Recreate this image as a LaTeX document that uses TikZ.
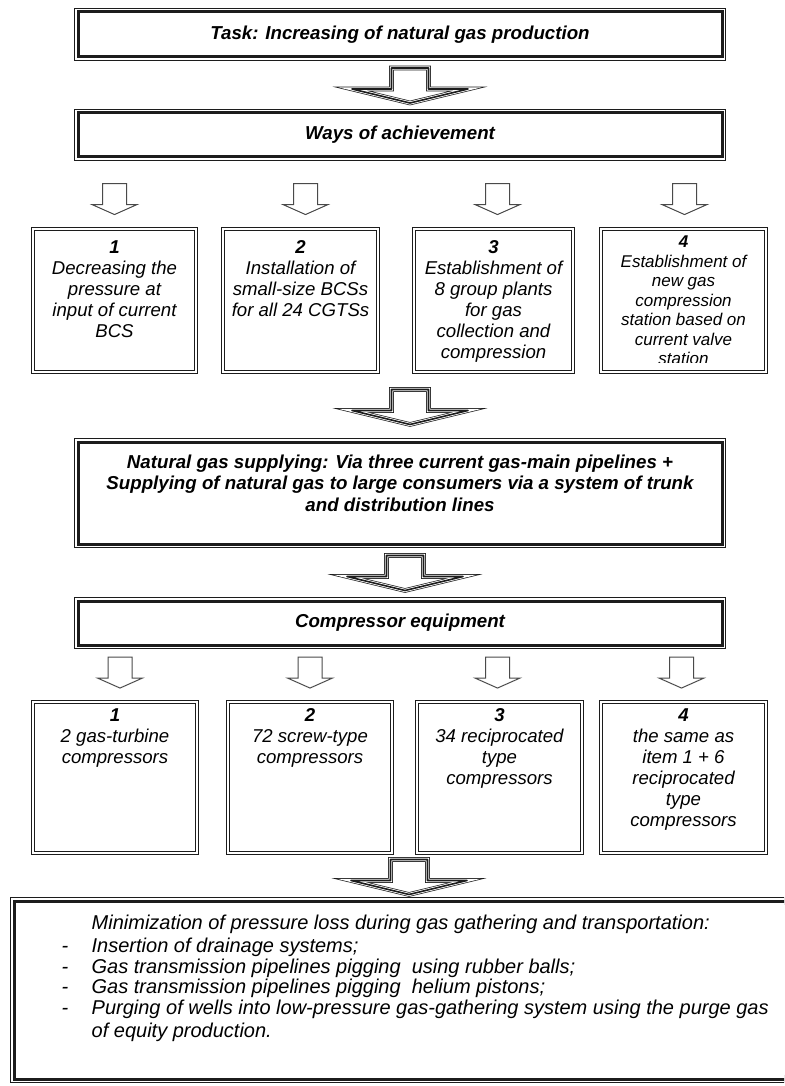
\documentclass[tikz,border=0pt]{standalone}
\usepackage{fontspec}
\setmainfont{Liberation Sans}
\usetikzlibrary{calc}
\definecolor{fline}{HTML}{1C1C1C}
\definecolor{fgray}{HTML}{4A4A4A}
\tikzset{
  headbox/.style={draw=fline, line width=3pt, fill=white, minimum width=644pt,
                  inner sep=0pt, align=center,
                  preaction={draw=fline, line width=1pt, double=white, double distance=6pt}},
  itembox/.style n args={3}{draw=fline, line width=0.9pt, double=white, double distance=2.4pt,
                  minimum width=#1, minimum height=#2, inner sep=0pt,
                  path picture={\node[itemtext] at (path picture bounding box.center)
                                  {\parbox[c][#2][t]{#1}{\centering #3}};
                                \fill[white] (path picture bounding box.south west)
                                  rectangle ([yshift=9pt]path picture bounding box.south east);}},
  itemtext/.style={inner sep=0pt, yshift=-12pt,
                   font=\fontsize{18.6}{21}\selectfont\itshape},
  headtext/.style={font=\fontsize{18.7}{21.5}\selectfont\bfseries\itshape},
  listtext/.style={align=left, inner sep=0pt,
                   font=\fontsize{20}{20.6}\selectfont\itshape},
  bigline/.style={draw=fline, line width=1.6pt, line join=round,
                  preaction={draw=fline, line width=0.7pt, double=white, double distance=3.2pt}},
  smallline/.style={draw=fgray, line width=1pt},
  bigarr/.pic={
    \draw[bigline] (-18.5,-17) -- (-18.5,4) -- (-58,4) -- (0,18) -- (58,4) -- (18.5,4) -- (18.5,-17) -- cycle;
  },
  smallarr/.pic={
    \draw[smallline] (-12,-15.5) -- (-12,5.5) -- (-22.5,5.5) -- (0,15.5) -- (22.5,5.5) -- (12,5.5) -- (12,-15.5) -- cycle;
  },
}

\begin{document}
\begin{tikzpicture}[x=1pt, y=-1pt]
  \useasboundingbox (0,0) rectangle (784,1086);
  \clip (0,0) rectangle (784,1086);

  %% top of the chart
  \node[headbox, minimum height=45pt, headtext] (task) at (400,34.5) {Task: Increasing of natural gas production};
  \node[headbox, minimum height=44pt, headtext] (ways) at (400,135) {Ways of achievement};
  \pic at ($(task.south)!0.5!(ways.north)+(10,0)$) {bigarr};

  %% ways of achievement
  \node[itembox={163pt}{143pt}{\textbf{1}\\Decreasing the\\pressure at\\input of current\\BCS}] (w1) at (114.5,300.5) {};
  \node[itembox={155pt}{143pt}{\textbf{2}\\Installation of\\small-size BCSs\\for all 24 CGTSs}] (w2) at (300.5,300.5) {};
  \node[itembox={159pt}{143pt}{\textbf{3}\\Establishment of\\8 group plants\\for gas\\collection and\\compression}] (w3) at (493.5,300.5) {};
  \node[itemtext/.append style={yshift=5pt, font=\fontsize{17}{19.5}\selectfont\itshape},
        itembox={165pt}{143pt}{\textbf{4}\\Establishment of\\new gas\\compression\\station based on\\current valve\\station}] (w4) at (683.5,300.5) {};
  \foreach \i/\dx in {1/0,2/5,3/4,4/1}
    \pic at ($(w\i.north)+(\dx,-29.5)$) {smallarr};

  %% supplying and equipment
  \node[headbox, minimum height=102pt, headtext, text depth=20pt] (supply) at (400,493)
    {Natural gas supplying: Via three current gas-main pipelines +\\
     Supplying of natural gas to large consumers via a system of trunk\\
     and distribution lines};
  \pic at ($(w1.south -| supply.north)!0.5!(supply.north)+(10,0)$) {bigarr};
  \node[headbox, minimum height=44pt, headtext] (equip) at (400,623) {Compressor equipment};
  \pic at ($(supply.south)!0.5!(equip.north)+(5,0)$) {bigarr};

  %% compressors
  \begin{scope}[itemtext/.append style={yshift=5pt}]
    \node[itembox={164pt}{151pt}{\textbf{1}\\2 gas-turbine\\compressors}] (c1) at (115,777.5) {};
    \node[itembox={164pt}{151pt}{\textbf{2}\\72 screw-type\\compressors}] (c2) at (310,777.5) {};
    \node[itembox={165pt}{151pt}{\textbf{3}\\34 reciprocated\\type\\compressors}] (c3) at (499.5,777.5) {};
    \node[itembox={165pt}{151pt}{\textbf{4}\\the same as\\item 1 + 6\\reciprocated\\type\\compressors}] (c4) at (683.5,777.5) {};
  \end{scope}
  \foreach \i/\dx in {1/5,2/0,3/-2,4/-2}
    \pic at ($(c\i.north)+(\dx,-29)$) {smallarr};

  %% measures
  \node[headbox, minimum width=800pt, minimum height=178pt] (final) at (414,990) {};
  \pic at ($(c1.south -| final.north)!0.5!(final.north)+(-5,0)$) {bigarr};
  \node[listtext, anchor=north west] (lst) at ($(final.north west)+(49,15.5)$)
    {\hspace*{30pt}Minimization of pressure loss during gas gathering and transportation:\\[2.3pt]
     \makebox[30pt][l]{-}Insertion of drainage systems;\\
     \makebox[30pt][l]{-}Gas transmission pipelines pigging \ using rubber balls;\\
     \makebox[30pt][l]{-}Gas transmission pipelines pigging \ helium pistons;\\
     \makebox[30pt][l]{-}Purging of wells into low-pressure gas-gathering system using the purge gas\\[2.3pt]
     \hspace*{30pt}of equity production.};
\end{tikzpicture}
\end{document}
